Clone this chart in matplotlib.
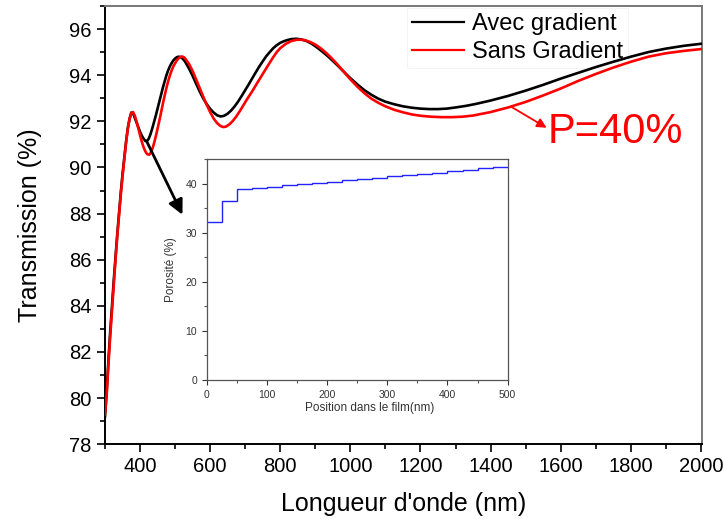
import numpy as np
import matplotlib
matplotlib.use("Agg")
from matplotlib import pyplot as plt
from matplotlib.ticker import MultipleLocator

plt.rcParams['font.family'] = ['Liberation Sans', 'DejaVu Sans']

# Transmission curves, values (nm, %)
wl_avec = [300, 305, 310, 315, 320, 325, 330, 335, 340, 345, 350, 355, 360, 365, 370,
           375, 380, 385, 390, 395, 400, 405, 410, 415, 419, 425, 430, 435, 440, 445,
           450, 455, 460, 465, 470, 475, 480, 485, 490, 495, 500, 505, 510, 515, 520,
           525, 530, 540, 550, 560, 570, 580, 590, 600, 610, 620, 630, 640, 650, 660,
           670, 680, 690, 700, 710, 720, 730, 740, 750, 760, 770, 780, 790, 800, 810,
           820, 830, 845, 860, 875, 890, 905, 920, 935, 950, 965, 980, 1000, 1020, 1040,
           1060, 1080, 1100, 1125, 1150, 1175, 1200, 1225, 1250, 1275, 1300, 1330, 1360,
           1400, 1450, 1500, 1550, 1600, 1650, 1700, 1750, 1800, 1850, 1900, 1950, 2000]
t_avec = [79.2, 80.3, 81.7, 82.9, 84.0, 85.1, 86.1, 87.1, 88.0, 88.9, 89.7, 90.4, 91.1,
          91.7, 92.1, 92.38, 92.35, 92.15, 91.95, 91.75, 91.55, 91.38, 91.25, 91.15, 91.13,
          91.25, 91.45, 91.7, 91.97, 92.25, 92.55, 92.85, 93.15, 93.45, 93.72, 93.98, 94.2,
          94.38, 94.52, 94.64, 94.72, 94.78, 94.8, 94.79, 94.74, 94.66, 94.55, 94.28, 93.97,
          93.63, 93.3, 93.0, 92.75, 92.54, 92.38, 92.26, 92.21, 92.24, 92.33, 92.47, 92.65,
          92.86, 93.1, 93.35, 93.6, 93.86, 94.12, 94.37, 94.6, 94.82, 95.0, 95.17, 95.3,
          95.4, 95.47, 95.52, 95.56, 95.58, 95.55, 95.48, 95.36, 95.2, 95.02, 94.83, 94.62,
          94.4, 94.17, 93.87, 93.6, 93.35, 93.15, 92.98, 92.85, 92.74, 92.65, 92.59, 92.55,
          92.53, 92.53, 92.55, 92.6, 92.67, 92.76, 92.9, 93.1, 93.33, 93.58, 93.85, 94.1,
          94.35, 94.58, 94.8, 95.0, 95.15, 95.27, 95.36]

wl_sans = [300, 305, 310, 315, 320, 325, 330, 335, 340, 345, 350, 355, 360, 365, 370,
           375, 380, 385, 390, 395, 400, 405, 410, 415, 420, 426, 430, 435, 440, 445,
           450, 455, 460, 465, 470, 475, 480, 485, 490, 495, 500, 505, 510, 515, 520,
           525, 530, 540, 550, 560, 570, 580, 590, 600, 610, 620, 630, 638, 645, 655,
           665, 675, 685, 695, 705, 720, 735, 750, 765, 780, 790, 800, 815, 830, 845,
           858, 870, 885, 900, 915, 930, 945, 960, 980, 1000, 1020, 1040, 1060, 1080,
           1100, 1125, 1150, 1175, 1200, 1230, 1260, 1290, 1320, 1350, 1400, 1450, 1500,
           1550, 1600, 1650, 1700, 1750, 1800, 1850, 1900, 1950, 2000]
t_sans = [79.3, 80.2, 81.5, 82.7, 83.8, 84.9, 86.0, 87.0, 87.9, 88.8, 89.6, 90.35, 91.05,
          91.65, 92.1, 92.35, 92.4, 92.25, 92.0, 91.7, 91.4, 91.12, 90.88, 90.7, 90.58,
          90.55, 90.62, 90.8, 91.05, 91.35, 91.68, 92.02, 92.38, 92.75, 93.1, 93.43, 93.73,
          93.98, 94.2, 94.38, 94.52, 94.64, 94.73, 94.79, 94.81, 94.78, 94.7, 94.48, 94.18,
          93.82, 93.45, 93.08, 92.72, 92.4, 92.12, 91.92, 91.79, 91.75, 91.77, 91.87, 92.02,
          92.22, 92.45, 92.7, 92.95, 93.3, 93.68, 94.05, 94.42, 94.78, 95.0, 95.17, 95.35,
          95.47, 95.53, 95.54, 95.52, 95.44, 95.33, 95.17, 94.98, 94.76, 94.52, 94.17, 93.82,
          93.5, 93.22, 92.98, 92.8, 92.65, 92.5, 92.39, 92.3, 92.24, 92.2, 92.18, 92.18,
          92.2, 92.25, 92.4, 92.6, 92.84, 93.12, 93.42, 93.75, 94.05, 94.33, 94.58, 94.8,
          94.95, 95.05, 95.13]

# Porosity profile (inset), one value per 25 nm layer
pos_edges = list(range(0, 525, 25))
porosite = [32.2, 36.5, 38.9, 39.1, 39.4, 39.7, 39.9, 40.2, 40.4, 40.7, 41.0, 41.2,
            41.5, 41.8, 42.0, 42.3, 42.6, 42.9, 43.2, 43.5]

fig = plt.figure(figsize=(7.24, 5.19), dpi=100)
ax = fig.add_axes([0.145, 0.144, 0.8245, 0.8445])

ax.plot(wl_avec, t_avec, color='black', lw=1.9, label='Avec gradient', zorder=3)
ax.plot(wl_sans, t_sans, color='#ff0000', lw=1.9, label='Sans Gradient', zorder=3)

ax.set_xlim(300, 2003)
ax.set_ylim(78, 97)
ax.xaxis.set_minor_locator(MultipleLocator(100))
ax.yaxis.set_major_locator(MultipleLocator(2))
ax.yaxis.set_minor_locator(MultipleLocator(1))
ax.set_xticks(range(400, 2001, 200))
ax.tick_params(which='major', direction='out', length=6, width=1.2, labelsize=14.5)
ax.tick_params(which='minor', direction='out', length=3.5, width=1.2)
ax.tick_params(axis='x', which='both', bottom=True, top=False)
ax.tick_params(axis='y', which='both', left=True, right=False)
for side in ['left', 'bottom']:
    ax.spines[side].set_linewidth(1.4)
for side in ['top', 'right']:
    ax.spines[side].set_color('#777777')
    ax.spines[side].set_linewidth(1.4)

ax.set_xlabel("Longueur d'onde (nm)", fontsize=18, labelpad=11)
ax.set_ylabel("Transmission (%)", fontsize=18, labelpad=20)

leg = ax.legend(loc='upper right', bbox_to_anchor=(0.88, 1.0), fontsize=17,
                frameon=True, fancybox=False, handlelength=2.2, handletextpad=0.35,
                borderpad=0.2, labelspacing=0.25, borderaxespad=0.1)
leg.get_frame().set_edgecolor('#f2f2f2')
leg.get_frame().set_linewidth(0.8)
leg.set_zorder(2)
for line in leg.get_lines():
    line.set_linewidth(1.6)

# arrows and annotation
ax.annotate('', xy=(521, 87.95), xytext=(419, 91.13),
            arrowprops=dict(arrowstyle='-|>', color='black', lw=2,
                            mutation_scale=22, shrinkA=0, shrinkB=0))
ax.annotate('', xy=(1560, 91.72), xytext=(1460, 92.62),
            arrowprops=dict(arrowstyle='-|>', color='#ff0000', lw=1.3,
                            mutation_scale=14, shrinkA=0, shrinkB=0))
ax.text(1562, 91.55, 'P=40%', color='#ff0000', fontsize=30, va='center', ha='left')

# inset
ins = fig.add_axes([0.2855, 0.2678, 0.4157, 0.4252])
ins.stairs(porosite, pos_edges, color='#2222ff', lw=1.0, baseline=None)
ins.set_xlim(0, 500)
ins.set_ylim(0, 45)
ins.xaxis.set_major_locator(MultipleLocator(100))
ins.xaxis.set_minor_locator(MultipleLocator(50))
ins.yaxis.set_major_locator(MultipleLocator(10))
ins.yaxis.set_minor_locator(MultipleLocator(5))
ins.tick_params(which='major', direction='out', length=3.5, width=0.8,
                labelsize=7.5, colors='#333333')
ins.tick_params(which='minor', direction='out', length=2, width=0.8, colors='#555555')
for side in ins.spines:
    ins.spines[side].set_color('#555555')
    ins.spines[side].set_linewidth(0.9)
ins.set_xlabel('Position dans le film(nm)', fontsize=8.5, color='#333333', labelpad=4)
ins.xaxis.set_label_coords(0.54, -0.1)
ins.set_ylabel('Porosité (%)', fontsize=8.5, color='#333333', labelpad=6)

fig.savefig('out.png', dpi=100)
